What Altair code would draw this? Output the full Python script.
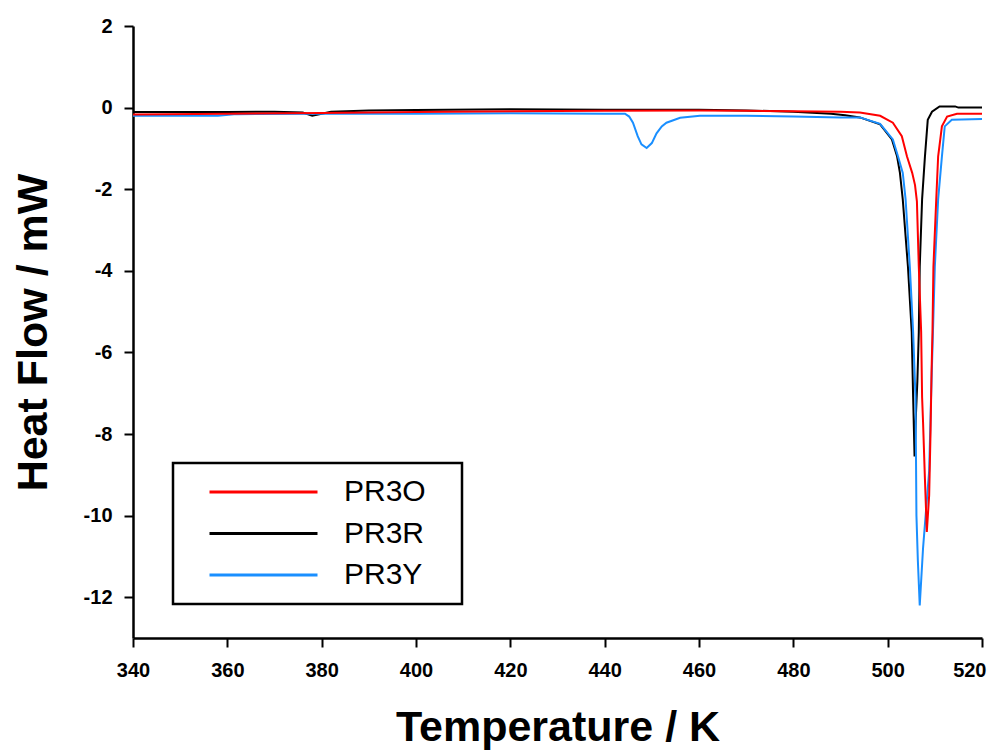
import altair as alt
import pandas as pd

series = ["PR3O", "PR3R", "PR3Y"]
colors = ["#FF0000", "#000000", "#1A8FFF"]

t_pr3o = [340, 360, 380, 400, 420, 440, 460, 470, 480, 490, 494.1, 498.4, 501.1, 503.0,
          504.1, 505.2, 505.8, 506.2, 506.6, 507.1, 507.3, 507.5, 507.9, 508.3, 508.8,
          509.1, 509.3, 509.5, 509.7, 510.3, 510.7, 511.5, 512.6, 514.7, 520]
hf_pr3o = [-0.17, -0.15, -0.13, -0.11, -0.09, -0.08, -0.07, -0.08, -0.09, -0.10, -0.12,
           -0.20, -0.37, -0.70, -1.2, -1.6, -1.9, -2.3, -3.9, -5.5, -7.1, -7.7, -9.1,
           -10.4, -9.5, -7.9, -6.5, -5.5, -3.9, -2.25, -1.2, -0.46, -0.22, -0.15, -0.15]

t_pr3r = [340, 360, 370, 376, 378, 380, 382, 390, 400, 420, 440, 460, 470, 480, 488, 491,
          494.1, 498.4, 500.9, 502.0, 502.6, 503.2, 504.3, 505.1, 505.4, 505.7, 506.0,
          506.3, 506.6, 506.8, 507.3, 507.9, 508.5, 509.4, 511, 514.3, 515, 520]
hf_pr3r = [-0.11, -0.11, -0.10, -0.12, -0.20, -0.15, -0.10, -0.07, -0.06, -0.04, -0.05,
           -0.05, -0.07, -0.10, -0.15, -0.19, -0.24, -0.41, -0.78, -1.2, -1.6, -2.25,
           -3.9, -5.5, -7.1, -8.55, -7.5, -6.7, -5.5, -3.9, -2.25, -1.2, -0.3, -0.1,
           0.03, 0.03, 0.0, 0.0]

t_pr3y = [340, 358, 362, 380, 400, 420, 440, 444.3, 445.2, 446, 447, 447.8, 448.9, 450,
          451, 452.1, 453.1, 456, 460.2, 470, 480, 490, 494.1, 498.4, 501.1, 502.2, 503.2,
          503.8, 504.7, 505.4, 505.9, 506.0, 506.1, 506.4, 506.8, 507.5, 508.8, 509.2,
          509.6, 510.0, 510.7, 511.5, 512.1, 513.6, 520]
hf_pr3y = [-0.20, -0.20, -0.16, -0.15, -0.15, -0.14, -0.15, -0.15, -0.22, -0.37, -0.70,
           -0.90, -0.99, -0.87, -0.63, -0.46, -0.37, -0.25, -0.20, -0.20, -0.22, -0.24,
           -0.24, -0.40, -0.78, -1.2, -1.6, -2.25, -3.9, -5.5, -7.1, -8.5, -10.0, -11.1,
           -12.2, -10.8, -8.9, -7.1, -5.5, -3.9, -2.25, -1.2, -0.46, -0.3, -0.28]

x_ticks = [340, 360, 380, 400, 420, 440, 460, 480, 500, 520]
y_ticks = [-12, -10, -8, -6, -4, -2, 0, 2]

frames = []
for name, ts, hs in [("PR3O", t_pr3o, hf_pr3o), ("PR3R", t_pr3r, hf_pr3r), ("PR3Y", t_pr3y, hf_pr3y)]:
    frames.append(pd.DataFrame({"T": ts, "HF": hs, "series": name, "idx": range(len(ts))}))
df = pd.concat(frames, ignore_index=True)

BLANK = "\u2800"

color = alt.Color(
    "series:N",
    scale=alt.Scale(domain=series, range=colors),
    legend=alt.Legend(
        title=None,
        orient="none",
        legendX=40,
        legendY=437,
        symbolType="stroke",
        symbolSize=11664,
        symbolStrokeWidth=3,
        symbolOffset=21,
        clipHeight=30,
        labelOffset=25,
        labelFontSize=30,
        labelFont="Liberation Sans",
        labelColor="#000000",
        labelExpr="datum.label + '" + BLANK + "'",
        rowPadding=11.5,
        padding=14,
        strokeColor="#000000",
        fillColor="#FFFFFF",
    ),
)

base = alt.Chart(df).mark_line(strokeWidth=2, clip=True).encode(
    x=alt.X("T:Q", scale=alt.Scale(domain=[340, 520], nice=False, zero=False),
            axis=alt.Axis(values=x_ticks, title="Temperature / K", labelFlush=False,
                          labelExpr="'' + datum.value",
                          labelAlign={"condition": {"test": "datum.value >= 520", "value": "right"},
                                      "value": "center"},
                          labelOffset={"condition": {"test": "datum.value >= 520", "value": 4},
                                       "value": 0})),
    y=alt.Y("HF:Q", scale=alt.Scale(domain=[-13, 2], nice=False, zero=False),
            axis=alt.Axis(values=y_ticks, title="Heat Flow / mW", labelFlush=False,
                          labelExpr="'' + datum.value")),
    color=color,
    order="idx:Q",
)

layers = [base.transform_filter(alt.datum.series == s) for s in ["PR3R", "PR3Y", "PR3O"]]

chart = alt.layer(*layers).properties(
    width=849,
    height=612,
    padding={"left": 125, "top": 18, "right": 5, "bottom": 117},
    autosize=alt.AutoSizeParams(type="none"),
).configure_view(stroke=None).configure_legend(
    strokeWidth=2.5,
).configure_axis(
    grid=False,
    domainColor="#000000",
    domainWidth=2.5,
    tickColor="#000000",
    tickWidth=2,
    tickSize=9,
    labelFont="Liberation Sans",
    labelFontWeight="bold",
    labelFontSize=20,
    labelColor="#000000",
    titleFont="Liberation Sans",
    titleFontWeight="bold",
    titleFontSize=43,
    titleColor="#000000",
).configure_axisY(
    labelPadding=12,
    titlePadding=28,
).configure_axisX(
    labelPadding=13,
    titlePadding=26,
)

chart.save("out.html", embed_options={"renderer": "svg", "actions": False})
